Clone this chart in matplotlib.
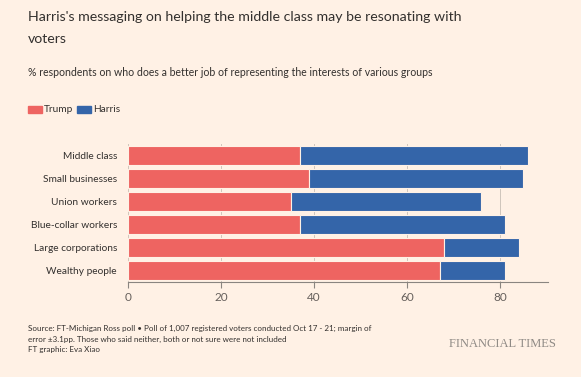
import matplotlib
matplotlib.use("Agg")
import matplotlib.pyplot as plt

categories = ["Middle class", "Small businesses", "Union workers",
              "Blue-collar workers", "Large corporations", "Wealthy people"]
trump = [37, 39, 35, 37, 68, 67]
harris = [49, 46, 41, 44, 16, 14]
xticks = [0, 20, 40, 60, 80]

BG = "#FFF1E5"
RED = "#EE6461"
BLUE = "#3465A9"
TXT = "#33302E"

plt.rcParams['font.family'] = ['Lato', 'DejaVu Sans']

fig = plt.figure(figsize=(5.81, 3.77), dpi=100, facecolor=BG)
ax = fig.add_axes([128/581, 1-282/377, (548-128)/581, (282-144)/377])
ax.set_facecolor(BG)

y = list(range(len(categories)))
ax.barh(y, trump, height=0.82, color=RED, edgecolor=BG, linewidth=0.8, zorder=3)
ax.barh(y, harris, left=trump, height=0.82, color=BLUE, edgecolor=BG, linewidth=0.8, zorder=3)

ax.set_ylim(len(categories)-0.5, -0.5)
ax.set_xlim(0, 90.3)
ax.set_xticks(xticks)
ax.set_xticklabels([str(t) for t in xticks], fontsize=8.5, color="#66605C")
ax.set_yticks(y)
ax.set_yticklabels(categories, fontsize=7.3, color=TXT)
ax.tick_params(axis='y', length=0, pad=8)
ax.tick_params(axis='x', length=4, color="#8A8580", pad=3)
ax.grid(axis='x', color="#B0A8A0", linewidth=0.7, alpha=0.6, zorder=0)
for s in ["top", "right", "left"]:
    ax.spines[s].set_visible(False)
ax.spines["bottom"].set_color("#8A8580")
ax.spines["bottom"].set_linewidth(0.8)

fig.text(28/581, 1-17/377, "Harris's messaging on helping the middle class may be resonating with",
         fontsize=10.2, color=TXT, va='center', ha='left')
fig.text(28/581, 1-39/377, "voters",
         fontsize=10.2, color=TXT, va='center', ha='left')
fig.text(28/581, 1-73/377, "% respondents on who does a better job of representing the interests of various groups",
         fontsize=7.6, color=TXT, va='center', ha='left')

# legend
fig.patches.append(matplotlib.patches.Rectangle((28/581, 1-113/377), 14/581, 7/377,
                   transform=fig.transFigure, color=RED))
fig.text(44/581, 1-109.5/377, "Trump", fontsize=7.3, color=TXT, va='center', ha='left')
fig.patches.append(matplotlib.patches.Rectangle((77/581, 1-113/377), 14/581, 7/377,
                   transform=fig.transFigure, color=BLUE))
fig.text(93/581, 1-109.5/377, "Harris", fontsize=7.3, color=TXT, va='center', ha='left')

fig.text(28/581, 1-325/377,
         "Source: FT-Michigan Ross poll \u2022 Poll of 1,007 registered voters conducted Oct 17 - 21; margin of\n"
         "error \u00b13.1pp. Those who said neither, both or not sure were not included\nFT graphic: Eva Xiao",
         fontsize=5.8, color=TXT, va='top', ha='left', linespacing=1.6)
fig.text(556/581, 1-344/377, "FINANCIAL TIMES", fontsize=9, color="#8F8A85",
         family=['Liberation Serif', 'DejaVu Serif'], va='center', ha='right')

fig.savefig("out.png", dpi=100, facecolor=BG)
